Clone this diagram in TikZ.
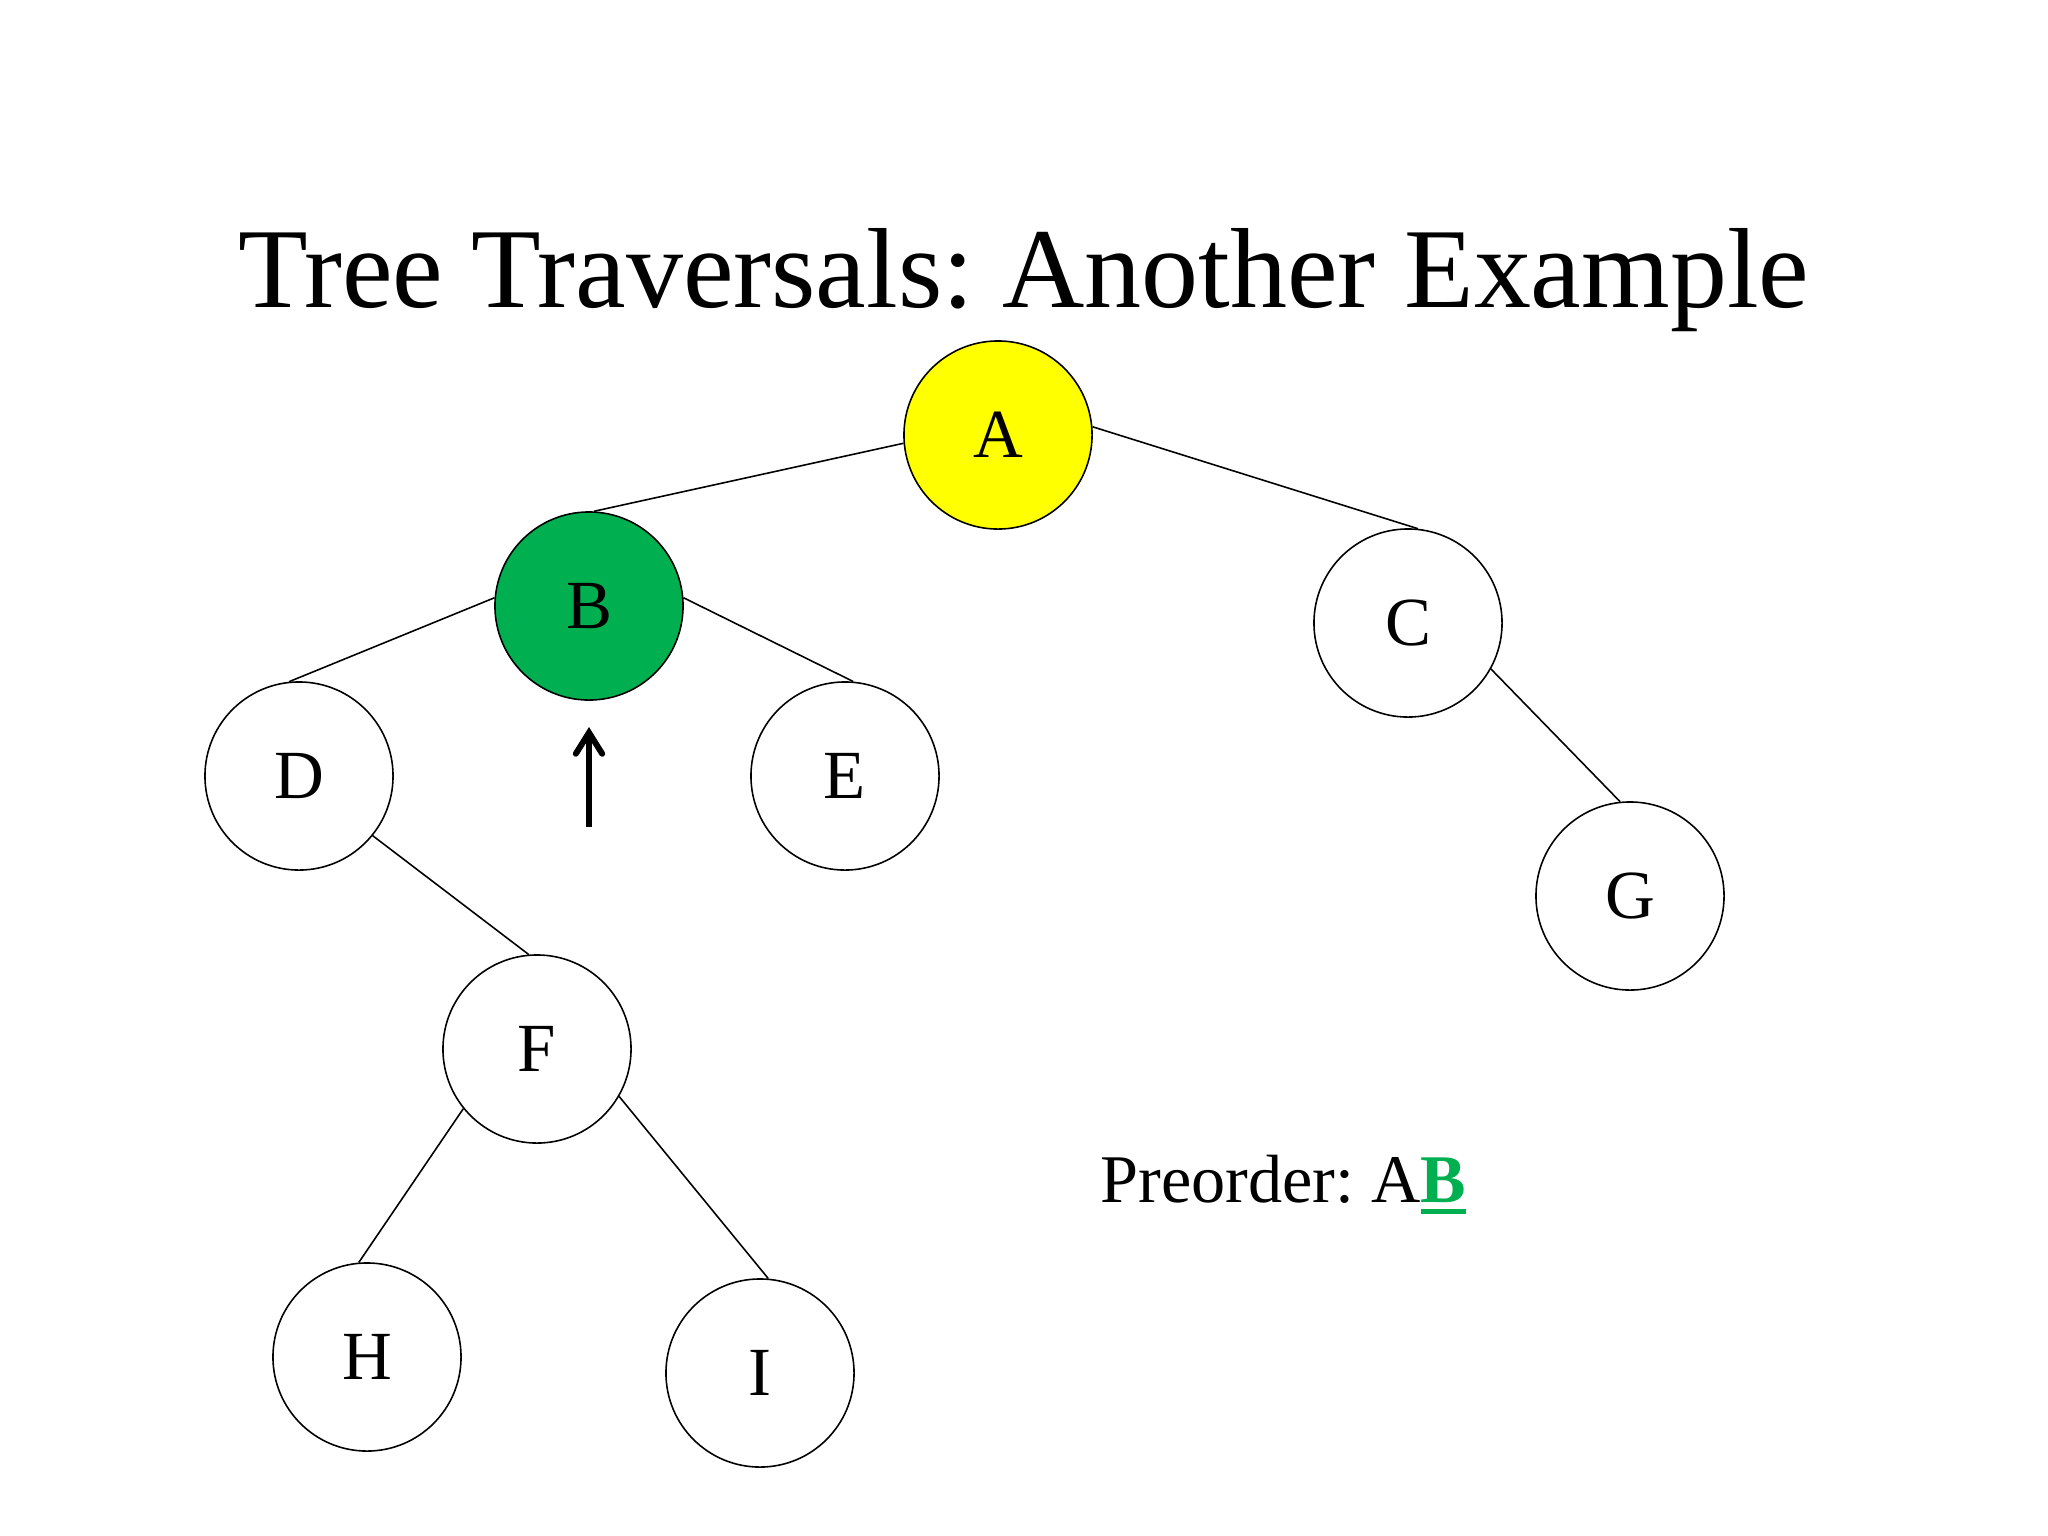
\documentclass[tikz,border=0pt]{standalone}
\usepackage{fontspec}
\setmainfont{Liberation Serif}
\usetikzlibrary{arrows.meta}
\definecolor{ppyellow}{RGB}{255,255,0}
\definecolor{ppgreen}{RGB}{0,176,80}
\newcommand\greenB{{\color{ppgreen}\setbox0\hbox{\bfseries B}\rlap{\rule[-0.18em]{\wd0}{0.08em}}\box0}}
\frenchspacing
\begin{document}
\begin{tikzpicture}[x=0.01cm,y=-0.01cm,
  treenode/.style={circle,draw=black,line width=0.45pt,minimum size=1.88cm,inner sep=0pt,font=\fontsize{19.6}{23}\selectfont},
  edge/.style={draw=black,line width=0.45pt}]
\useasboundingbox (0,0) rectangle (2048,1536);
\fill[white] (0,0) rectangle (2048,1536);
\node[anchor=base,font=\fontsize{32.4}{38}\selectfont] (title) at (1024,307) {Tree Traversals: Another Example};
\node[treenode,fill=ppyellow] (A) at (998,435) {A};
\node[treenode,fill=ppgreen] (B) at (589,606) {B};
\node[treenode] (C) at (1408,623) {C};
\node[treenode] (D) at (299,776) {D};
\node[treenode] (E) at (845,776) {E};
\node[treenode] (G) at (1630,896) {G};
\node[treenode] (F) at (537,1049) {F};
\node[treenode] (H) at (367,1357) {H};
\node[treenode] (I) at (760,1373) {I};
\draw[edge] (A.185) -- (B.87);
\draw[edge] (A.5) -- (C.84);
\draw[edge] (B.175) -- (D.96);
\draw[edge] (B.5) -- (E.85);
\draw[edge] (C.331) -- (G.96);
\draw[edge] (D.321) -- (F.95);
\draw[edge] (F.219) -- (H.95);
\draw[edge] (F.330) -- (I.85);
\coordinate (arrS) at (589,827);
\coordinate (arrE) at (589,727);
\draw[line width=1.7pt,-{Straight Barb[length=6pt,width=7.5pt,line cap=round]}] (arrS) -- (arrE);
\node[anchor=base west,inner sep=0pt,font=\fontsize{19.4}{23}\selectfont] (pre) at (1100,1202) {Preorder: A\greenB};
\end{tikzpicture}
\end{document}
